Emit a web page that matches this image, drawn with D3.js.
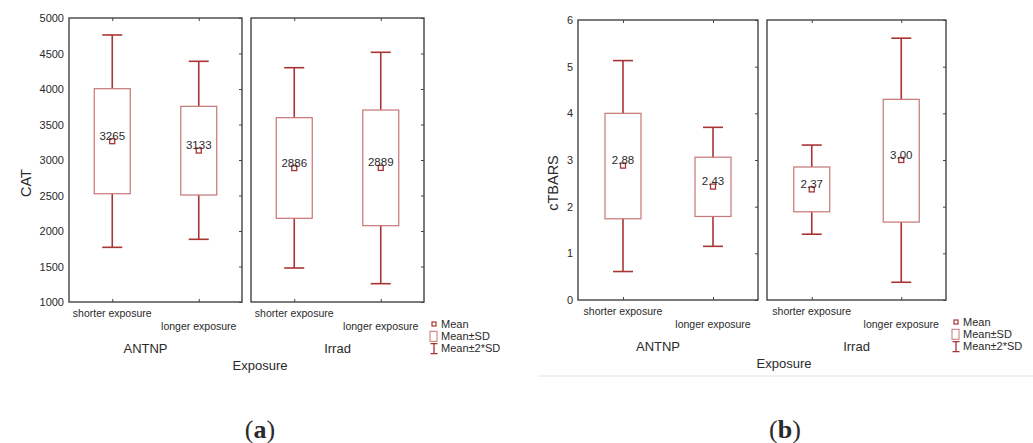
<!DOCTYPE html>
<html>
<head>
<meta charset="utf-8">
<script src="https://cdn.jsdelivr.net/npm/d3@7"></script>
<style>
  body { margin: 0; background: #fff; }
  text { font-family: "Liberation Sans", Arial, sans-serif; fill: #2a2a2a; }
</style>
</head>
<body>
<svg id="chart" width="1033" height="443"></svg>
<script>
// categories
const groups = ["ANTNP", "Irrad"];
const exposures = ["shorter exposure", "longer exposure"];

// (a) CAT  -- order: ANTNP shorter, ANTNP longer, Irrad shorter, Irrad longer
const catMean = [3265, 3133, 2886, 2889];
const catSdLow = [2525, 2507, 2179, 2075];
const catSdHigh = [4004, 3756, 3596, 3704];
const cat2SdLow = [1770, 1883, 1479, 1258];
const cat2SdHigh = [4761, 4390, 4300, 4517];
const catTicks = [1000, 1500, 2000, 2500, 3000, 3500, 4000, 4500, 5000];

// (b) cTBARS
const tbarsMean = [2.88, 2.43, 2.37, 3.00];
const tbarsSdLow = [1.74, 1.79, 1.89, 1.67];
const tbarsSdHigh = [4.00, 3.06, 2.85, 4.30];
const tbars2SdLow = [0.61, 1.15, 1.41, 0.38];
const tbars2SdHigh = [5.13, 3.70, 3.32, 5.61];
const tbarsTicks = [0, 1, 2, 3, 4, 5, 6];

const legendItems = ["Mean", "Mean±SD", "Mean±2*SD"];

const whiskerColor = "#a93434";
const boxColor = "#c77575";
const frameColor = "#444";

const svg = d3.select("#chart");

function drawFigure(cfg) {
  const y = d3.scaleLinear().domain(cfg.domain).range([cfg.bottom, cfg.top]);
  const fig = svg.append("g");

  groups.forEach((grp, gi) => {
    const [x0, x1] = cfg.panels[gi];
    const x = d3.scalePoint().domain(exposures).range([x0, x1]).padding(0.5);
    const p = fig.append("g");

    // inward ticks: right border, top and bottom at categories
    p.append("g")
      .attr("transform", `translate(${x1},0)`)
      .call(d3.axisLeft(y).tickValues(cfg.ticks).tickSize(3).tickFormat(""))
      .call(a => a.select(".domain").remove())
      .selectAll("line").attr("stroke", frameColor);
    p.append("g")
      .attr("transform", `translate(0,${cfg.top})`)
      .call(d3.axisBottom(x).tickSize(3).tickFormat(""))
      .call(a => a.select(".domain").remove())
      .selectAll("line").attr("stroke", frameColor);
    p.append("g")
      .attr("transform", `translate(0,${cfg.bottom})`)
      .call(d3.axisTop(x).tickSize(3).tickFormat(""))
      .call(a => a.select(".domain").remove())
      .selectAll("line").attr("stroke", frameColor);

    // frame
    p.append("rect")
      .attr("x", x0).attr("y", cfg.top)
      .attr("width", x1 - x0).attr("height", cfg.bottom - cfg.top)
      .attr("fill", "none").attr("stroke", frameColor).attr("stroke-width", 1.4);

    // y axis labels on first panel only
    if (gi === 0) {
      p.append("g")
        .attr("transform", `translate(${x0},0)`)
        .call(d3.axisLeft(y).tickValues(cfg.ticks).tickFormat(d3.format("d")).tickSize(0).tickPadding(5))
        .call(a => a.select(".domain").remove())
        .selectAll("text")
        .style("font-family", "Liberation Sans, Arial, sans-serif")
        .style("font-size", "11px").attr("fill", "#2a2a2a");
    }

    exposures.forEach((ex, ei) => {
      const i = gi * 2 + ei;
      const cx = x(ex);
      // whiskers
      p.append("line")
        .attr("x1", cx).attr("x2", cx)
        .attr("y1", y(cfg.sd2High[i])).attr("y2", y(cfg.sdHigh[i]))
        .attr("stroke", whiskerColor).attr("stroke-width", 1.6);
      p.append("line")
        .attr("x1", cx).attr("x2", cx)
        .attr("y1", y(cfg.sdLow[i])).attr("y2", y(cfg.sd2Low[i]))
        .attr("stroke", whiskerColor).attr("stroke-width", 1.6);
      [cfg.sd2High[i], cfg.sd2Low[i]].forEach(v => {
        p.append("line")
          .attr("x1", cx - 10).attr("x2", cx + 10)
          .attr("y1", y(v)).attr("y2", y(v))
          .attr("stroke", whiskerColor).attr("stroke-width", 1.6);
      });
      // box
      p.append("rect")
        .attr("x", cx - 18).attr("width", 36)
        .attr("y", y(cfg.sdHigh[i])).attr("height", y(cfg.sdLow[i]) - y(cfg.sdHigh[i]))
        .attr("fill", "none").attr("stroke", boxColor).attr("stroke-width", 1.2);
      // mean marker
      p.append("rect")
        .attr("x", cx - 2.5).attr("y", y(cfg.mean[i]) - 2.5)
        .attr("width", 5).attr("height", 5)
        .attr("fill", "#fff").attr("stroke", whiskerColor).attr("stroke-width", 1.3);
      p.append("text")
        .attr("x", cx).attr("y", y(cfg.mean[i]) - 1.5)
        .attr("text-anchor", "middle")
        .style("font-size", "11.5px")
        .text(cfg.fmt(cfg.mean[i]));

      // category label, staggered
      p.append("text")
        .attr("x", cx).attr("y", cfg.bottom + (ei === 0 ? 15 : 28))
        .attr("text-anchor", "middle")
        .style("font-size", "10.5px")
        .text(ex);
    });

    p.append("text")
      .attr("x", (x0 + x1) / 2 + (gi === 0 ? -10 : 0))
      .attr("y", cfg.bottom + 51)
      .attr("text-anchor", "middle")
      .style("font-size", "13px")
      .text(grp);
  });

  // y title
  fig.append("text")
    .attr("transform", `translate(${cfg.titleX},183) rotate(-90)`)
    .attr("text-anchor", "middle")
    .attr("dy", "0.35em")
    .style("font-size", "14.5px")
    .text(cfg.title);

  // x title
  fig.append("text")
    .attr("x", cfg.exposureX).attr("y", cfg.bottom + 68)
    .attr("text-anchor", "middle")
    .style("font-size", "13px")
    .text("Exposure");

  // legend
  const lx = cfg.panels[1][1] + 10;
  const leg = fig.append("g").attr("transform", `translate(${lx},${cfg.bottom + 22})`);
  legendItems.forEach((t, k) => {
    const row = leg.append("g").attr("transform", `translate(0,${k * 12.3})`);
    if (k === 0) {
      row.append("rect").attr("x", -2).attr("y", -2).attr("width", 4).attr("height", 4)
        .attr("fill", "#fff").attr("stroke", whiskerColor).attr("stroke-width", 1.2);
    } else if (k === 1) {
      row.append("rect").attr("x", -4).attr("y", -5).attr("width", 7).attr("height", 10)
        .attr("fill", "none").attr("stroke", boxColor).attr("stroke-width", 1);
    } else {
      row.append("path").attr("d", "M-3.5,-5H3.5M0,-5V5M-3.5,5H3.5")
        .attr("fill", "none").attr("stroke", whiskerColor).attr("stroke-width", 1.3);
    }
    row.append("text").attr("x", 7).attr("dy", "0.35em")
      .style("font-size", "11px").text(t);
  });

  // figure label
  const lab = fig.append("text")
    .attr("x", cfg.labelX).attr("y", 438)
    .attr("text-anchor", "middle")
    .style("font-family", "Liberation Serif, serif")
    .style("font-size", "26px")
    .attr("fill", "#111");
  lab.append("tspan").text("(");
  lab.append("tspan").style("font-weight", "bold").text(cfg.letter);
  lab.append("tspan").text(")");
}

drawFigure({
  domain: [1000, 5000], ticks: catTicks, top: 18, bottom: 302,
  panels: [[69, 242], [251, 424]],
  mean: catMean, sdLow: catSdLow, sdHigh: catSdHigh, sd2Low: cat2SdLow, sd2High: cat2SdHigh,
  fmt: d3.format("d"), title: "CAT", titleX: 26, exposureX: 260, labelX: 260, letter: "a"
});

// thin separator under (b)
svg.append("line")
  .attr("x1", 538).attr("x2", 1033).attr("y1", 376).attr("y2", 376)
  .attr("stroke", "#e2e2e2").attr("stroke-width", 1);

drawFigure({
  domain: [0, 6], ticks: tbarsTicks, top: 20, bottom: 300,
  panels: [[578, 758], [767, 946]],
  mean: tbarsMean, sdLow: tbarsSdLow, sdHigh: tbarsSdHigh, sd2Low: tbars2SdLow, sd2High: tbars2SdHigh,
  fmt: d3.format(".2f"), title: "cTBARS", titleX: 553, exposureX: 784, labelX: 785, letter: "b"
});
</script>
</body>
</html>
